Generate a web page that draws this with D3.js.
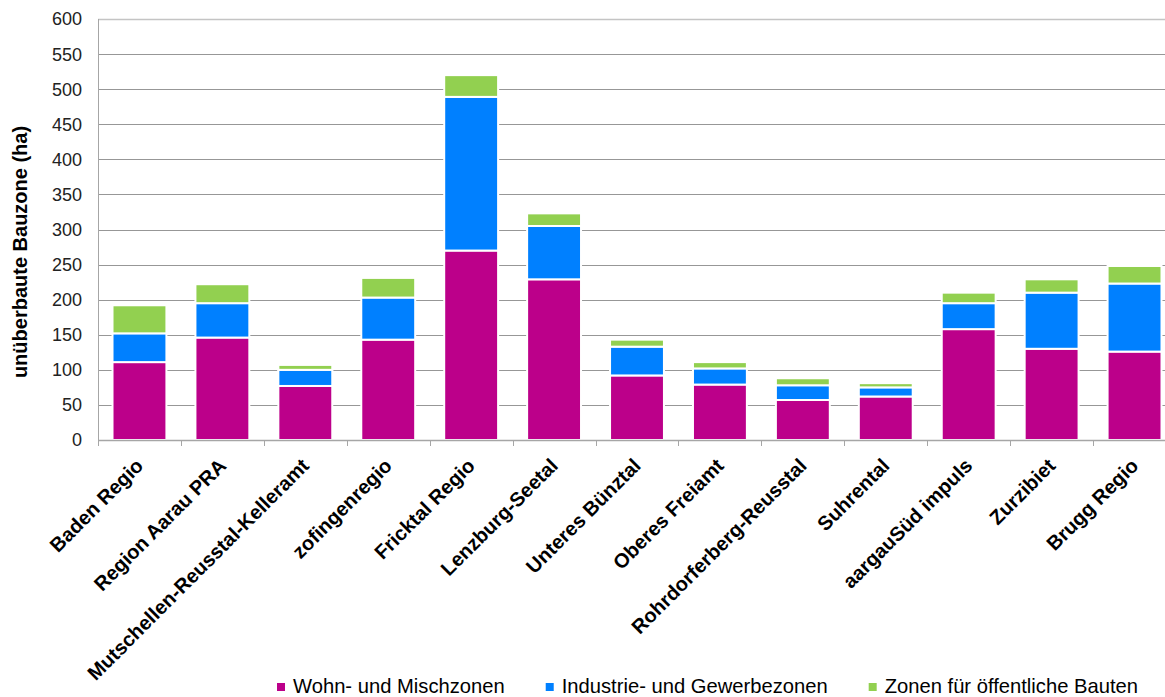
<!DOCTYPE html>
<html>
<head>
<meta charset="utf-8">
<script src="https://cdn.jsdelivr.net/npm/d3@7"></script>
<style>
  html, body { margin: 0; padding: 0; background: #fff; }
  svg { display: block; font-family: "Liberation Sans", Arial, sans-serif; }
</style>
</head>
<body>
<svg id="chart" width="1165" height="697"></svg>
<script>
// Unüberbaute Bauzonen je Region (ha), gestapelt nach Zonentyp
const categories = [
  "Baden Regio", "Region Aarau PRA", "Mutschellen-Reusstal-Kelleramt", "zofingenregio",
  "Fricktal Regio", "Lenzburg-Seetal", "Unteres Bünztal", "Oberes Freiamt",
  "Rohrdorferberg-Reusstal", "Suhrental", "aargauSüd impuls", "Zurzibiet", "Brugg Regio"
];
const seriesNames = ["Wohn- und Mischzonen", "Industrie- und Gewerbezonen", "Zonen für öffentliche Bauten"];
const wohn       = [111, 146, 77, 143, 270, 229, 92, 79, 57, 62, 158, 130, 126];
const industrie  = [ 41,  49, 23,  60, 219,  76, 41, 23, 21, 13,  37,  80,  97];
const oeffentlich = [40,  27,  7,  28,  31,  18, 10,  9, 10,  6,  15,  19,  25];
const yTicks = [0, 50, 100, 150, 200, 250, 300, 350, 400, 450, 500, 550, 600];
const colors = ["#BC008A", "#0080FF", "#92D050"];

const svg = d3.select("#chart");
const plot = { left: 98, right: 1176, top: 19, bottom: 440 };

const x = d3.scaleBand(categories, [plot.left, plot.right])
  .paddingInner(0.35).paddingOuter(0.175);
const y = d3.scaleLinear([0, 600], [plot.bottom, plot.top]);

// Gitterlinien
svg.append("g").selectAll("line")
  .data(yTicks.filter(t => t > 0))
  .join("line")
  .attr("x1", plot.left).attr("x2", plot.right)
  .attr("y1", d => Math.round(y(d)) + 0.5).attr("y2", d => Math.round(y(d)) + 0.5)
  .attr("stroke", d => d === 600 ? "#c4c4c4" : "#979797")
  .attr("stroke-width", d => d === 600 ? 1.5 : 1);

// Gestapelte Balken
const rows = categories.map((c, i) => ({
  cat: c, s0: wohn[i], s1: industrie[i], s2: oeffentlich[i]
}));
const stack = d3.stack().keys(["s0", "s1", "s2"])(rows);

svg.append("g").selectAll("g")
  .data(stack)
  .join("g")
  .attr("fill", (d, i) => colors[i])
  .selectAll("rect")
  .data(d => d)
  .join("rect")
  .attr("x", d => x(d.data.cat))
  .attr("width", x.bandwidth())
  .attr("y", d => y(d[1]))
  .attr("height", d => y(d[0]) - y(d[1]))
  .attr("stroke", "#ffffff")
  .attr("stroke-width", 2);

// Achsen
const axisColor = "#a6a6a6";
svg.append("line")
  .attr("x1", plot.left + 0.5).attr("x2", plot.left + 0.5)
  .attr("y1", plot.top).attr("y2", plot.bottom + 6)
  .attr("stroke", axisColor);
svg.append("line")
  .attr("x1", plot.left).attr("x2", plot.right)
  .attr("y1", plot.bottom + 0.5).attr("y2", plot.bottom + 0.5)
  .attr("stroke", axisColor).attr("stroke-width", 1.5);

// Teilstriche zwischen den Kategorien
const step = x.step();
svg.append("g").selectAll("line")
  .data(d3.range(categories.length + 1))
  .join("line")
  .attr("x1", i => Math.round(plot.left + i * step) + 0.5)
  .attr("x2", i => Math.round(plot.left + i * step) + 0.5)
  .attr("y1", plot.bottom).attr("y2", plot.bottom + 6)
  .attr("stroke", axisColor);

// Y-Achsenbeschriftung
svg.append("g").selectAll("text")
  .data(yTicks)
  .join("text")
  .attr("x", 82)
  .attr("y", d => y(d))
  .attr("dy", "0.36em")
  .attr("text-anchor", "end")
  .attr("font-size", 18)
  .attr("fill", "#222")
  .text(d => d);

// Y-Achsentitel
svg.append("text")
  .attr("transform", "translate(27,252) rotate(-90)")
  .attr("text-anchor", "middle")
  .attr("font-size", 20)
  .attr("font-weight", "bold")
  .attr("fill", "#000")
  .text("unüberbaute Bauzone (ha)");

// Kategorienbeschriftung (45° gedreht)
svg.append("g").selectAll("text")
  .data(categories)
  .join("text")
  .attr("transform", d => `translate(${x(d) + x.bandwidth() / 2 + 5},467) rotate(-45)`)
  .attr("text-anchor", "end")
  .attr("font-size", 20)
  .attr("font-weight", "bold")
  .attr("fill", "#000")
  .text(d => d);

// Legende
const legend = svg.append("g").attr("font-size", 20.2);
let lx = 277;
seriesNames.forEach((name, i) => {
  legend.append("rect")
    .attr("x", lx).attr("y", 683)
    .attr("width", 8).attr("height", 8)
    .attr("fill", colors[i]);
  const t = legend.append("text")
    .attr("x", lx + 16).attr("y", 693)
    .attr("fill", "#000")
    .text(name);
  lx += 16 + t.node().getComputedTextLength() + 41;
});
</script>
</body>
</html>
